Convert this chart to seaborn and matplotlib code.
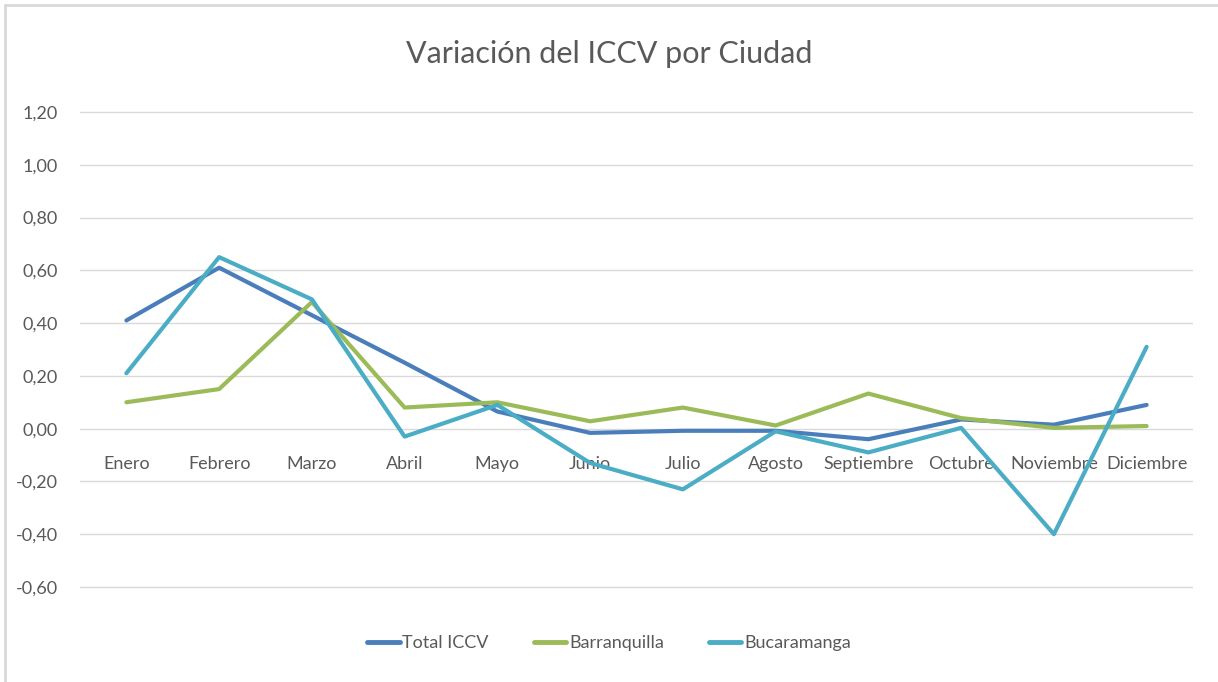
import matplotlib
matplotlib.use("Agg")
import matplotlib.pyplot as plt
import seaborn as sns
import pandas as pd
from matplotlib.patches import Rectangle
from matplotlib.ticker import FuncFormatter

meses = ["Enero", "Febrero", "Marzo", "Abril", "Mayo", "Junio", "Julio",
         "Agosto", "Septiembre", "Octubre", "Noviembre", "Diciembre"]
total_iccv = [0.41, 0.61, 0.43, 0.25, 0.065, -0.016, -0.008, -0.008, -0.04, 0.035, 0.015, 0.09]
barranquilla = [0.10, 0.15, 0.48, 0.08, 0.10, 0.028, 0.08, 0.012, 0.133, 0.04, 0.003, 0.01]
bucaramanga = [0.21, 0.65, 0.49, -0.03, 0.09, -0.13, -0.23, -0.01, -0.09, 0.003, -0.40, 0.31]
series_names = ["Total ICCV", "Barranquilla", "Bucaramanga"]
colors = ["#4A7EBB", "#9BBB59", "#4BACC6"]
yticks = [-0.60, -0.40, -0.20, 0.00, 0.20, 0.40, 0.60, 0.80, 1.00, 1.20]

rows = []
for name, vals in zip(series_names, [total_iccv, barranquilla, bucaramanga]):
    for i, (m, v) in enumerate(zip(meses, vals)):
        rows.append({"Mes": m, "idx": i, "Serie": name, "Valor": v})
df = pd.DataFrame(rows)

sns.set_theme(style="white")
plt.rcParams['font.family'] = ['Lato', 'DejaVu Sans']
text_color = "#595959"

fig = plt.figure(figsize=(12.18, 6.82), dpi=100)
ax = fig.add_axes([80/1218, 1 - 590/682, (1193-80)/1218, (590-109)/682])

for y in yticks:
    ax.axhline(y, color="#D9D9D9", lw=1.0, zorder=0)

sns.lineplot(data=df, x="idx", y="Valor", hue="Serie", palette=colors,
             hue_order=series_names, linewidth=3.0, ax=ax, legend=True,
             sort=False)

ax.set_xlim(-0.5, 11.5)
ax.set_ylim(-0.6114, 1.2114)
ax.set_yticks(yticks)
ax.yaxis.set_major_formatter(FuncFormatter(lambda v, p: f"{v:.2f}".replace(".", ",")))
ax.set_xticks(range(len(meses)))
ax.set_xticklabels(meses)
ax.spines['bottom'].set_position(('data', 0))
for s in ax.spines.values():
    s.set_visible(False)
ax.tick_params(axis='x', length=0, pad=20, labelsize=13, labelcolor=text_color)
ax.tick_params(axis='y', length=0, pad=16, labelsize=13, labelcolor=text_color)
ax.set_xlabel("")
ax.set_ylabel("")

fig.text(0.5, 1 - 54/682, "Variación del ICCV por Ciudad", ha="center", va="center",
         fontsize=22, color=text_color)

leg = ax.legend(loc="center", bbox_to_anchor=(0.5, (682-643)/682), bbox_transform=fig.transFigure,
                ncol=3, frameon=False, fontsize=13, handlelength=1.8, handletextpad=0.15,
                columnspacing=2.5)
for t in leg.get_texts():
    t.set_color(text_color)
for h in leg.get_lines():
    h.set_linewidth(3.5)
    h.set_solid_capstyle("round")

fig.patches.append(Rectangle((5/1218, -0.01), 1.02, 1 - 5/682 + 0.01, transform=fig.transFigure,
                             fill=False, edgecolor="#D9D9D9", lw=2, zorder=10))

fig.savefig("out.png", dpi=100)
